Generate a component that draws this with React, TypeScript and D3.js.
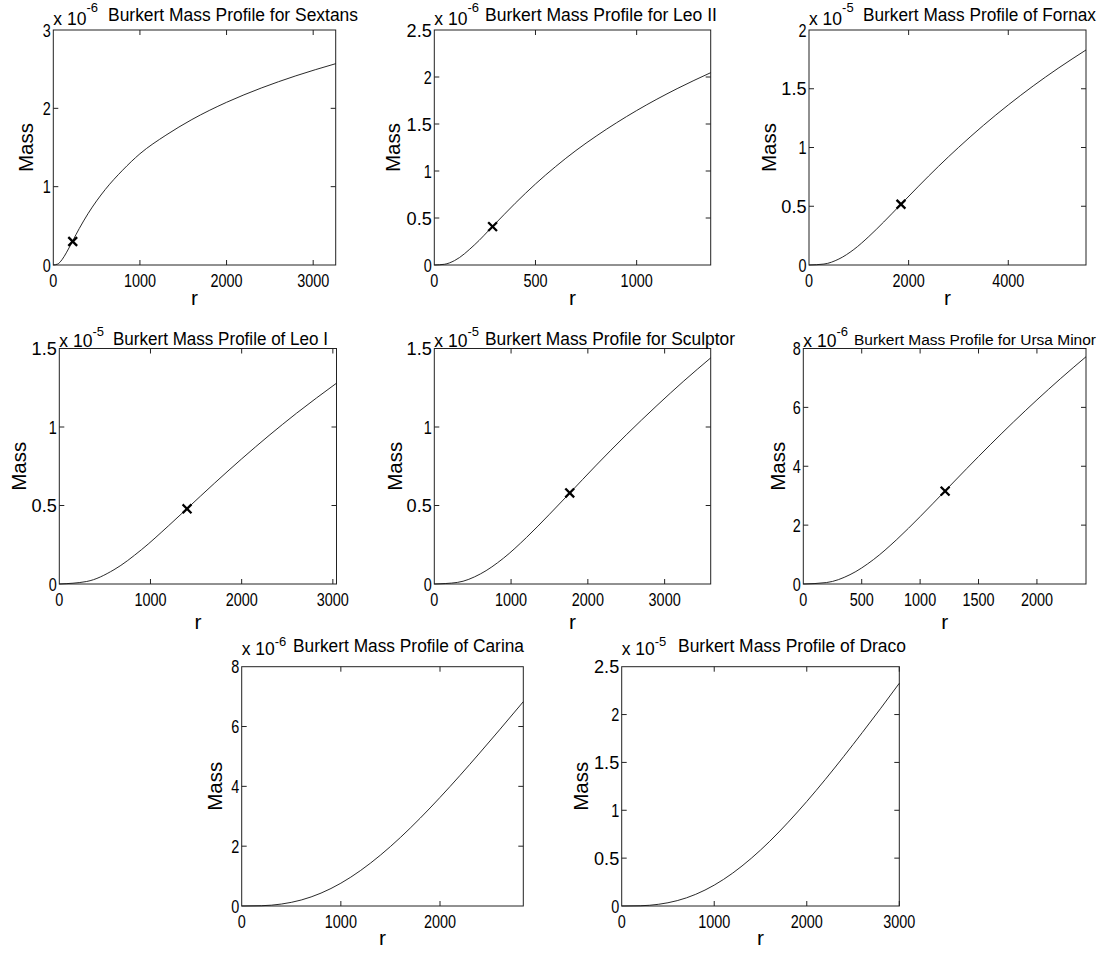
import React from "react";
import * as d3 from "d3";

// ---------- data (mass in units of the panel exponent) ----------
const sextansR = [0, 50, 100, 150, 223, 300, 400, 600, 800, 1000, 1300, 1600, 2000, 2400, 2800, 3260];
const sextansM = [0, 0.012, 0.067, 0.155, 0.306, 0.466, 0.654, 0.964, 1.21, 1.42, 1.657, 1.857, 2.077, 2.259, 2.415, 2.57];
const sextansMarker = [224, 0.3];

const leo2R = [0, 50, 100, 200, 288, 400, 500, 600, 700, 800, 1000, 1200, 1366];
const leo2M = [0, 0.0075, 0.047, 0.217, 0.41, 0.657, 0.862, 1.048, 1.218, 1.371, 1.643, 1.876, 2.046];
const leo2Marker = [288, 0.408];

const fornaxR = [0, 300, 600, 900, 1200, 1500, 1846, 2200, 2600, 3000, 3500, 4000, 4500, 5000, 5560];
const fornaxM = [0, 0.008, 0.051, 0.132, 0.242, 0.366, 0.517, 0.671, 0.84, 1.0, 1.188, 1.362, 1.524, 1.674, 1.83];
const fornaxMarker = [1846, 0.517];

const leo1R = [0, 300, 600, 900, 1200, 1401, 1700, 2000, 2300, 2600, 3040];
const leo1M = [0, 0.016, 0.091, 0.218, 0.372, 0.48, 0.641, 0.797, 0.946, 1.087, 1.279];
const leo1Marker = [1401, 0.479];

const sculptorR = [0, 300, 600, 900, 1200, 1500, 1764, 2100, 2500, 2900, 3250, 3600];
const sculptorM = [0, 0.01, 0.064, 0.164, 0.296, 0.444, 0.579, 0.752, 0.95, 1.137, 1.293, 1.44];
const sculptorMarker = [1764, 0.58];

const ursaR = [0, 200, 400, 600, 800, 1000, 1214, 1400, 1600, 1800, 2000, 2200, 2420];
const ursaM = [0, 0.05, 0.317, 0.827, 1.511, 2.289, 3.163, 3.925, 4.729, 5.507, 6.254, 6.97, 7.72];
const ursaMarker = [1214, 3.155];

const carinaR = [0, 200, 400, 600, 800, 1000, 1200, 1400, 1600, 1800, 2000, 2200, 2400, 2600, 2840];
const carinaM = [0, 0.009, 0.065, 0.2, 0.431, 0.762, 1.189, 1.703, 2.289, 2.936, 3.63, 4.359, 5.115, 5.888, 6.83];

const dracoR = [0, 200, 400, 600, 800, 1000, 1200, 1400, 1600, 1800, 2000, 2200, 2400, 2600, 2800, 3000];
const dracoM = [0, 0.0024, 0.018, 0.056, 0.122, 0.218, 0.344, 0.498, 0.676, 0.876, 1.092, 1.322, 1.563, 1.812, 2.066, 2.327];

// axis ranges / ticks
const xTicks1000to3000 = [0, 1000, 2000, 3000];
const titles = [
  "Burkert Mass Profile for Sextans",
  "Burkert Mass Profile for Leo II",
  "Burkert Mass Profile of Fornax",
  "Burkert Mass Profile of Leo I",
  "Burkert Mass Profile for Sculptor",
  "Burkert Mass Profile for Ursa Minor",
  "Burkert Mass Profile of Carina",
  "Burkert Mass Profile of Draco",
];

const panels = [
  { r: sextansR, m: sextansM, marker: sextansMarker, xMax: 3260, yMax: 3, xTicks: xTicks1000to3000, yTicks: [0, 1, 2, 3], exp: "-6",
    left: 53.3, right: 335.7, top: 30, bottom: 265, row: 0, tX: 108, tW: 250, tF: 17.5, massX: 33 },
  { r: leo2R, m: leo2M, marker: leo2Marker, xMax: 1366, yMax: 2.5, xTicks: [0, 500, 1000], yTicks: [0, 0.5, 1, 1.5, 2, 2.5], exp: "-6",
    left: 434.3, right: 710.7, top: 30, bottom: 265, row: 0, tX: 485, tW: 232, tF: 17.5, massX: 400 },
  { r: fornaxR, m: fornaxM, marker: fornaxMarker, xMax: 5560, yMax: 2, xTicks: [0, 2000, 4000], yTicks: [0, 0.5, 1, 1.5, 2], exp: "-5",
    left: 809, right: 1086, top: 30, bottom: 265, row: 0, tX: 863, tW: 233, tF: 17.5, massX: 776 },
  { r: leo1R, m: leo1M, marker: leo1Marker, xMax: 3040, yMax: 1.5, xTicks: xTicks1000to3000, yTicks: [0, 0.5, 1, 1.5], exp: "-5",
    left: 59.3, right: 336.5, top: 348.5, bottom: 584, row: 1, tX: 113, tW: 215, tF: 17.5, massX: 26 },
  { r: sculptorR, m: sculptorM, marker: sculptorMarker, xMax: 3600, yMax: 1.5, xTicks: xTicks1000to3000, yTicks: [0, 0.5, 1, 1.5], exp: "-5",
    left: 434.3, right: 710.7, top: 348.5, bottom: 584, row: 1, tX: 485, tW: 250, tF: 17.5, massX: 402 },
  { r: ursaR, m: ursaM, marker: ursaMarker, xMax: 2420, yMax: 8, xTicks: [0, 500, 1000, 1500, 2000], yTicks: [0, 2, 4, 6, 8], exp: "-6",
    left: 803.3, right: 1086, top: 348.5, bottom: 584, row: 1, tX: 854, tW: 242, tF: 15.5, massX: 785 },
  { r: carinaR, m: carinaM, marker: null, xMax: 2840, yMax: 8, xTicks: [0, 1000, 2000], yTicks: [0, 2, 4, 6, 8], exp: "-6",
    left: 241.7, right: 523.3, top: 666.7, bottom: 906, row: 2, tX: 293, tW: 231, tF: 17.5, massX: 222 },
  { r: dracoR, m: dracoM, marker: null, xMax: 3000, yMax: 2.5, xTicks: xTicks1000to3000, yTicks: [0, 0.5, 1, 1.5, 2, 2.5], exp: "-5",
    left: 621.7, right: 899.3, top: 666.7, bottom: 906, row: 2, tX: 678, tW: 228, tF: 17.5, massX: 588 },
];

const rows = [
  { titleY: 21, x10Y: 25, raise: 13, rY: 305 },
  { titleY: 345, x10Y: 347, raise: 11, rY: 629 },
  { titleY: 652, x10Y: 655, raise: 9, rY: 945 },
];

const FONT = "'Liberation Sans', Arial, Helvetica, sans-serif";
const TICK = 5;
const TICK_FONT = 18.5;
const sxFor = (s: string) => (s.includes(".") ? 0.98 : 0.78);

function Panel({ p, i }: { p: any; i: number }) {
  const x = d3.scaleLinear().domain([0, p.xMax]).range([p.left, p.right]);
  const y = d3.scaleLinear().domain([0, p.yMax]).range([p.bottom, p.top]);
  const pts = p.r.map((r: number, k: number) => [r, p.m[k]] as [number, number]);
  const line = d3
    .line<[number, number]>()
    .x((d) => x(d[0]))
    .y((d) => y(d[1]))
    .curve(d3.curveMonotoneX);
  const row = rows[p.row];
  const cx = (p.left + p.right) / 2;
  const cy = (p.top + p.bottom) / 2;
  const ms = 3.6;
  return (
    <g>
      <rect x={p.left} y={p.top} width={p.right - p.left} height={p.bottom - p.top} fill="#fff" stroke="#222" strokeWidth={1} />
      {p.xTicks.map((t: number) => (
        <g key={"xt" + t}>
          {t !== 0 && <line x1={x(t)} x2={x(t)} y1={p.bottom} y2={p.bottom - TICK} stroke="#222" />}
          {t !== 0 && <line x1={x(t)} x2={x(t)} y1={p.top} y2={p.top + TICK} stroke="#222" />}
          <text transform={`translate(${x(t)},${p.bottom + 21.7}) scale(${sxFor(String(t))},1)`} textAnchor="middle" fontSize={TICK_FONT} fontFamily={FONT} fill="#000">
            {String(t)}
          </text>
        </g>
      ))}
      {p.yTicks.map((t: number) => (
        <g key={"yt" + t}>
          {t !== 0 && t !== p.yMax && <line x1={p.left} x2={p.left + TICK} y1={y(t)} y2={y(t)} stroke="#222" />}
          {t !== 0 && t !== p.yMax && <line x1={p.right} x2={p.right - TICK} y1={y(t)} y2={y(t)} stroke="#222" />}
          <text transform={`translate(${p.left - 2.5},${y(t)}) scale(${sxFor(String(t))},1)`} dy="0.36em" textAnchor="end" fontSize={TICK_FONT} fontFamily={FONT} fill="#000">
            {String(t)}
          </text>
        </g>
      ))}
      <path d={line(pts) || ""} fill="none" stroke="#111" strokeWidth={0.9} />
      {p.marker && (
        <g stroke="#000" strokeWidth={2.3} strokeLinecap="square">
          <line x1={x(p.marker[0]) - ms} y1={y(p.marker[1]) - ms} x2={x(p.marker[0]) + ms} y2={y(p.marker[1]) + ms} />
          <line x1={x(p.marker[0]) - ms} y1={y(p.marker[1]) + ms} x2={x(p.marker[0]) + ms} y2={y(p.marker[1]) - ms} />
        </g>
      )}
      <text x={p.left} y={row.x10Y} fontSize={17.5} fontFamily={FONT} fill="#000">
        <tspan>x 10</tspan>
        <tspan dy={-row.raise} fontSize={13}>{p.exp}</tspan>
      </text>
      <text x={p.tX} y={row.titleY} fontSize={p.tF} fontFamily={FONT} fill="#000" textLength={p.tW} lengthAdjust="spacingAndGlyphs">
        {titles[i]}
      </text>
      <text x={cx} y={row.rY} textAnchor="middle" fontSize={21} fontFamily={FONT} fill="#000">
        r
      </text>
      <text transform={`translate(${p.massX},${cy}) rotate(-90)`} textAnchor="middle" fontSize={20.5} fontFamily={FONT} fill="#000">
        Mass
      </text>
    </g>
  );
}

export default function App() {
  return (
    <svg width={1102} height={953} style={{ position: "absolute", left: 0, top: 0, background: "#fff" }}>
      <rect x={0} y={0} width={1102} height={953} fill="#fff" />
      {panels.map((p, i) => (
        <Panel key={i} p={p} i={i} />
      ))}
    </svg>
  );
}
